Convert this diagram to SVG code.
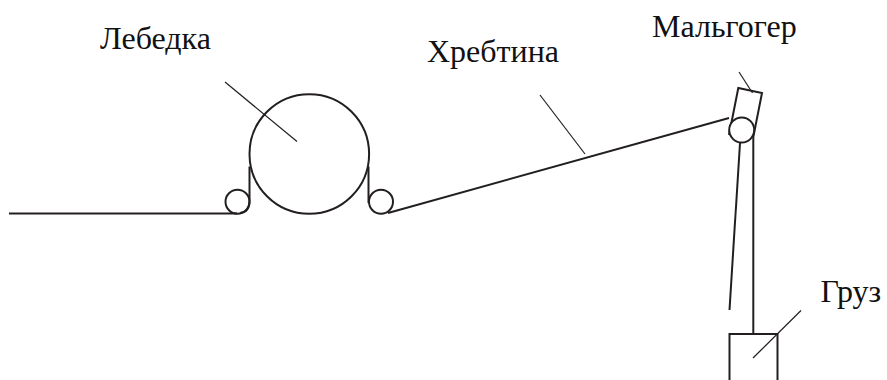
<svg xmlns="http://www.w3.org/2000/svg" width="887" height="380" viewBox="0 0 887 380">
<style>
.l{fill:none;stroke:#231f20;stroke-width:2}
.t{fill:none;stroke:#231f20;stroke-width:1.2}
text{font-family:"Liberation Serif","Times New Roman",serif;font-size:32px;fill:#111}
</style>
<rect width="887" height="380" fill="#fff"/>
<g id="connectors">
<path class="l" d="M9 213.500H237"/>
<path class="l" d="M249.500 166.500V201Q249.500 212 240 213"/>
<path class="l" d="M368.500 166.500V203"/>
<path class="l" d="M388 213L729 118"/>
<path class="l" d="M740 143L729.500 310"/>
<path class="l" d="M753.300 137V334"/>
<path class="t" d="M225 82L297 141.500"/>
<path class="t" d="M540 95L585 154"/>
<path class="t" d="M739 72L752.500 93"/>
<path class="t" d="M801 310.500L753 358"/>
</g>
<g id="lebedka"><circle class="l" cx="309.300" cy="154" r="59.800"/><text x="100" y="49">Лебедка</text></g>
<g id="roller-left"><circle class="l" cx="237.500" cy="201.700" r="12"/></g>
<g id="roller-right"><circle class="l" cx="381" cy="201.700" r="12"/></g>
<g id="hrebtina"><text x="427" y="62">Хребтина</text></g>
<g id="malgoger"><path class="l" d="M729 135L738.300 88L762 93L753.300 137"/><circle class="l" cx="741.700" cy="130" r="12.500" fill="#fff" style="fill:#fff"/><text x="652" y="37">Мальгогер</text></g>
<g id="gruz"><path class="l" d="M729.500 380V334H777.500V380"/><text x="820.500" y="302">Груз</text></g>
</svg>
